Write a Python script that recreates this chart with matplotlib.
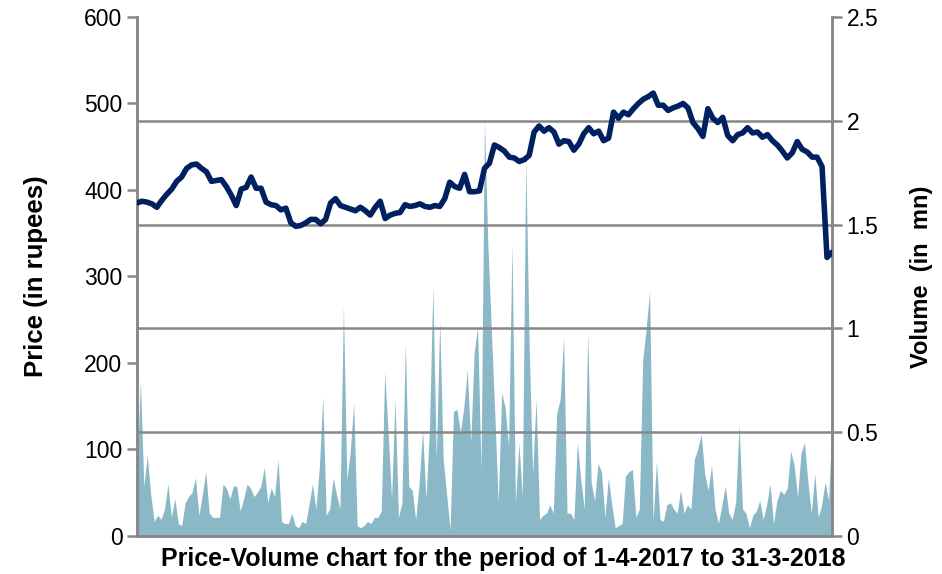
import numpy as np
import matplotlib
matplotlib.use('Agg')
import matplotlib.pyplot as plt

plt.rcParams['font.family'] = ['Liberation Sans', 'DejaVu Sans']

price = [385, 387, 386, 384, 380, 388, 395, 401, 410, 415, 425, 429, 430, 425, 421,
         410, 411, 412, 404, 394, 382, 401, 403, 415, 402, 402, 386, 383, 382, 377,
         379, 362, 358, 359, 362, 366, 366, 361, 366, 385, 390, 382, 380, 378, 376,
         380, 376, 371, 380, 387, 367, 371, 373, 374, 383, 381, 382, 384, 381, 380,
         382, 381, 390, 409, 404, 402, 418, 398, 398, 399, 425, 431, 452, 449, 445,
         438, 437, 433, 435, 440, 467, 474, 468, 472, 467, 453, 457, 456, 446, 453,
         465, 472, 465, 468, 457, 460, 490, 483, 490, 487, 494, 500, 505, 508, 512,
         498, 498, 492, 495, 497, 500, 495, 478, 471, 462, 494, 483, 478, 484, 463,
         457, 464, 466, 472, 466, 467, 461, 464, 457, 452, 445, 437, 443, 456, 447,
         444, 438, 438, 427, 322, 328]

# traded volume (million shares)
volume = [0.30, 0.75, 0.24, 0.39, 0.20, 0.07, 0.10, 0.08, 0.13, 0.25, 0.09, 0.18, 0.06,
          0.05, 0.16, 0.19, 0.21, 0.28, 0.10, 0.20, 0.31, 0.11, 0.09, 0.09, 0.09, 0.25,
          0.23, 0.18, 0.24, 0.24, 0.12, 0.18, 0.25, 0.23,
          0.19, 0.21, 0.24, 0.33, 0.16, 0.23, 0.19, 0.37, 0.07, 0.06, 0.06, 0.11, 0.05,
          0.04, 0.07, 0.06, 0.15, 0.25, 0.13, 0.33, 0.67, 0.10, 0.13, 0.28, 0.20, 0.13,
          1.11, 0.27, 0.41, 0.64, 0.05, 0.04, 0.05, 0.07,
          0.06, 0.09, 0.09, 0.12, 0.79, 0.50, 0.18, 0.66, 0.09, 0.16, 0.93,
          0.24, 0.22, 0.08, 0.25, 0.51, 0.18, 0.51, 1.20, 0.37, 1.04, 0.37, 0.20, 0.03,
          0.60, 0.61, 0.50, 0.62, 0.80, 0.45, 0.88, 1.01, 0.32, 2.00, 1.40, 0.99,
          0.59, 0.16, 0.69, 0.62, 0.43, 1.41, 0.16, 0.45, 0.19, 1.82, 0.91,
          0.30, 0.66, 0.08, 0.10, 0.11, 0.15, 0.11, 0.59, 0.66, 0.96, 0.11, 0.11, 0.08,
          0.45, 0.27, 0.13, 0.98, 0.26, 0.17, 0.35,
          0.31, 0.09, 0.28, 0.15, 0.04, 0.05, 0.06, 0.29, 0.31, 0.32, 0.09, 0.13, 0.85,
          1.00, 1.18, 0.07, 0.36, 0.08, 0.07, 0.15, 0.16, 0.13, 0.11, 0.22, 0.11, 0.15,
          0.13, 0.37, 0.42, 0.49, 0.30, 0.22, 0.34, 0.13, 0.06, 0.15, 0.24,
          0.11, 0.08, 0.16, 0.54, 0.13, 0.11, 0.04, 0.10, 0.12, 0.17, 0.08, 0.15, 0.25,
          0.06, 0.17, 0.22, 0.20, 0.23, 0.41, 0.34, 0.19, 0.40, 0.45, 0.26, 0.11, 0.30,
          0.09, 0.15, 0.26, 0.17, 0.54]

price_ticks = [0, 100, 200, 300, 400, 500, 600]
vol_ticks = [0, 0.5, 1, 1.5, 2, 2.5]
vol_tick_labels = ['0', '0.5', '1', '1.5', '2', '2.5']

grey = '#878787'

fig = plt.figure(figsize=(9.42, 5.74), dpi=100)
ax = fig.add_axes([0.1454, 0.0662, 0.7378, 0.9042])
ax2 = ax.twinx()

# volume on the base axes, price on the twin so the line is drawn on top
xv = np.linspace(0, 1, len(volume))
ax.fill_between(xv, volume, 0, color='#8BB8C7', lw=0, zorder=1)
for t in vol_ticks[1:-1]:
    ax.axhline(t, color=grey, lw=1.8, zorder=2)
ax.set_xlim(0, 1)
ax.set_ylim(0, 2.5)
ax.set_yticks(vol_ticks)
ax.set_yticklabels(vol_tick_labels)
ax.yaxis.tick_right()
ax.yaxis.set_label_position('right')
ax.set_ylabel('Volume  (in  mn)', fontsize=17, fontweight='bold', labelpad=23)
ax.set_xticks([])

xp = np.linspace(0, 1, len(price))
ax2.plot(xp, price, color='#002060', lw=4, solid_joinstyle='round',
         solid_capstyle='round', zorder=3)
ax2.set_ylim(0, 600)
ax2.set_yticks(price_ticks)
ax2.yaxis.tick_left()
ax2.yaxis.set_label_position('left')
ax2.set_ylabel('Price (in rupees)', fontsize=18.5, fontweight='bold', labelpad=26)

for a in (ax, ax2):
    a.spines['top'].set_visible(False)
    for s in ('left', 'right', 'bottom'):
        a.spines[s].set_color(grey)
        a.spines[s].set_linewidth(1.8)
    a.tick_params(axis='y', colors=grey, labelcolor='black', labelsize=16.5,
                  length=7, width=1.8, direction='out')

fig.text(503 / 942, 1 - 559 / 574,
         'Price-Volume chart for the period of 1-4-2017 to 31-3-2018',
         fontsize=18, fontweight='bold', ha='center', va='center')

fig.savefig('out.png', dpi=100)
